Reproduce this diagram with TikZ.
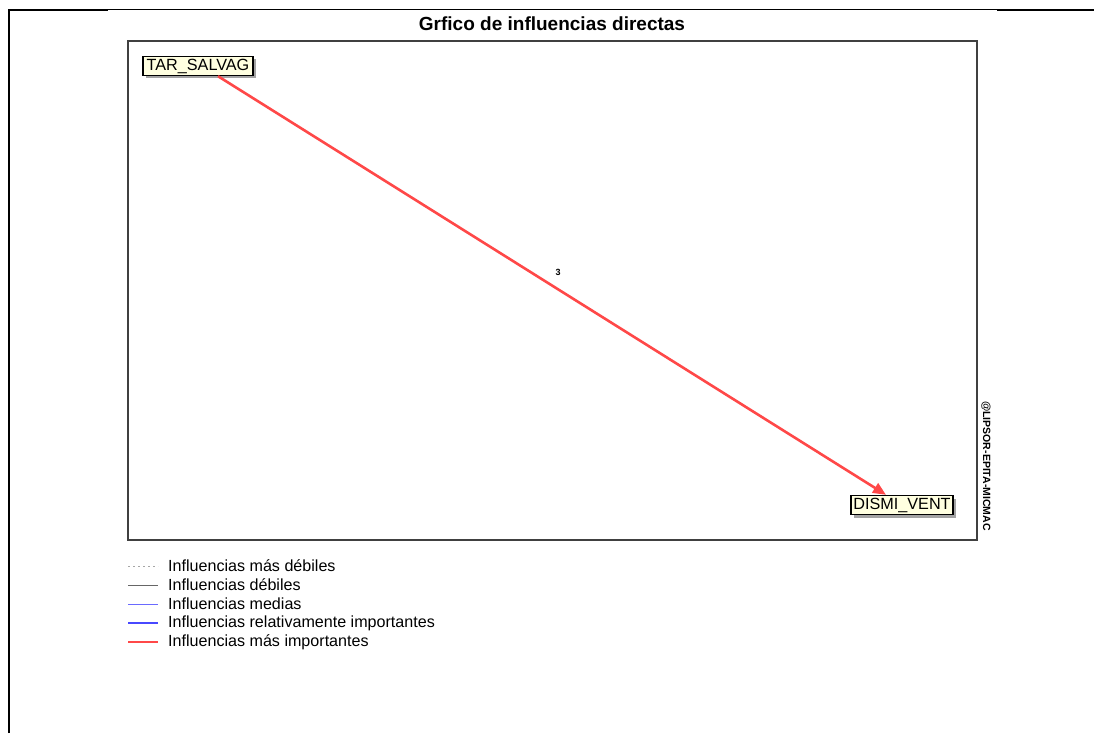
\documentclass[tikz,border=0pt]{standalone}
\usepackage{fontspec}
\setmainfont{Liberation Sans}
\usetikzlibrary{arrows.meta,shadows,calc}
\definecolor{nodefill}{HTML}{FFFFE0}
\definecolor{edgered}{HTML}{FF4848}
\definecolor{legblue}{HTML}{6A6AFF}
\definecolor{legblueb}{HTML}{4848FF}
\definecolor{framegray}{HTML}{404040}
\tikzset{
  x=1pt, y=-1pt,
  varbox/.style={draw=black, line width=1.4pt, fill=nodefill, inner sep=0pt,
    minimum height=19pt, font=\fontsize{16.2}{17}\selectfont,
    drop shadow={shadow xshift=3pt, shadow yshift=-3pt, fill=black!45, opacity=0.8}},
  strong/.style={draw=edgered, line width=2.6pt},
  legtext/.style={anchor=west, inner sep=0pt, font=\fontsize{16.1}{17}\selectfont},
}
\begin{document}
\begin{tikzpicture}
\useasboundingbox (0,0) rectangle (1094,733);
% outer frame
\draw[line width=2pt] (9,733) -- (9,10) -- (108,10);
\draw[line width=1pt] (108,10) -- (997,10);
\draw[line width=2pt] (997,10) -- (1094,10);
% title
\node[font=\fontsize{19}{20}\selectfont\bfseries] (title) at (552,24) {Grfico de influencias directas};
% plot frame
\draw[draw=framegray, line width=1.6pt] (128,41) rectangle (977,540);
% credit
\node[rotate=-90, font=\fontsize{10.5}{11}\selectfont\bfseries, inner sep=0pt] (credit) at (986,466) {@LIPSOR-EPITA-MICMAC};
% nodes
\node[varbox, minimum width=110pt] (tar) at (198,66) {TAR\_SALVAG};
\node[varbox, minimum width=102pt] (dis) at (902,505) {DISMI\_VENT};
% edge
\draw[strong, -{Triangle[length=13pt,width=11pt]}] ([xshift=20pt]tar.south) -- ([xshift=-16pt]dis.north)
  node[pos=0.509, yshift=17pt, font=\fontsize{9}{10}\selectfont\bfseries, inner sep=0pt] (w) {3};
% legend
\coordinate (l1) at (128,566);
\coordinate (l2) at (128,585);
\coordinate (l3) at (128,604);
\coordinate (l4) at (128,623);
\coordinate (l5) at (128,642);
\draw[black!35, line width=0.8pt, dash pattern=on 2pt off 3pt] (l1) -- ++(30,0);
\draw[black!60, line width=1pt] (l2) -- ++(30,0);
\draw[legblue, line width=1pt] (l3) -- ++(30,0);
\draw[legblueb, line width=2.4pt] (l4) -- ++(30,0);
\draw[edgered, line width=2.4pt] (l5) -- ++(30,0);
\node[legtext] (t1) at (168,566) {Influencias más débiles};
\node[legtext] (t2) at (168,585) {Influencias débiles};
\node[legtext] (t3) at (168,604) {Influencias medias};
\node[legtext] (t4) at (168,623) {Influencias relativamente importantes};
\node[legtext] (t5) at (168,642) {Influencias más importantes};
\end{tikzpicture}
\end{document}
